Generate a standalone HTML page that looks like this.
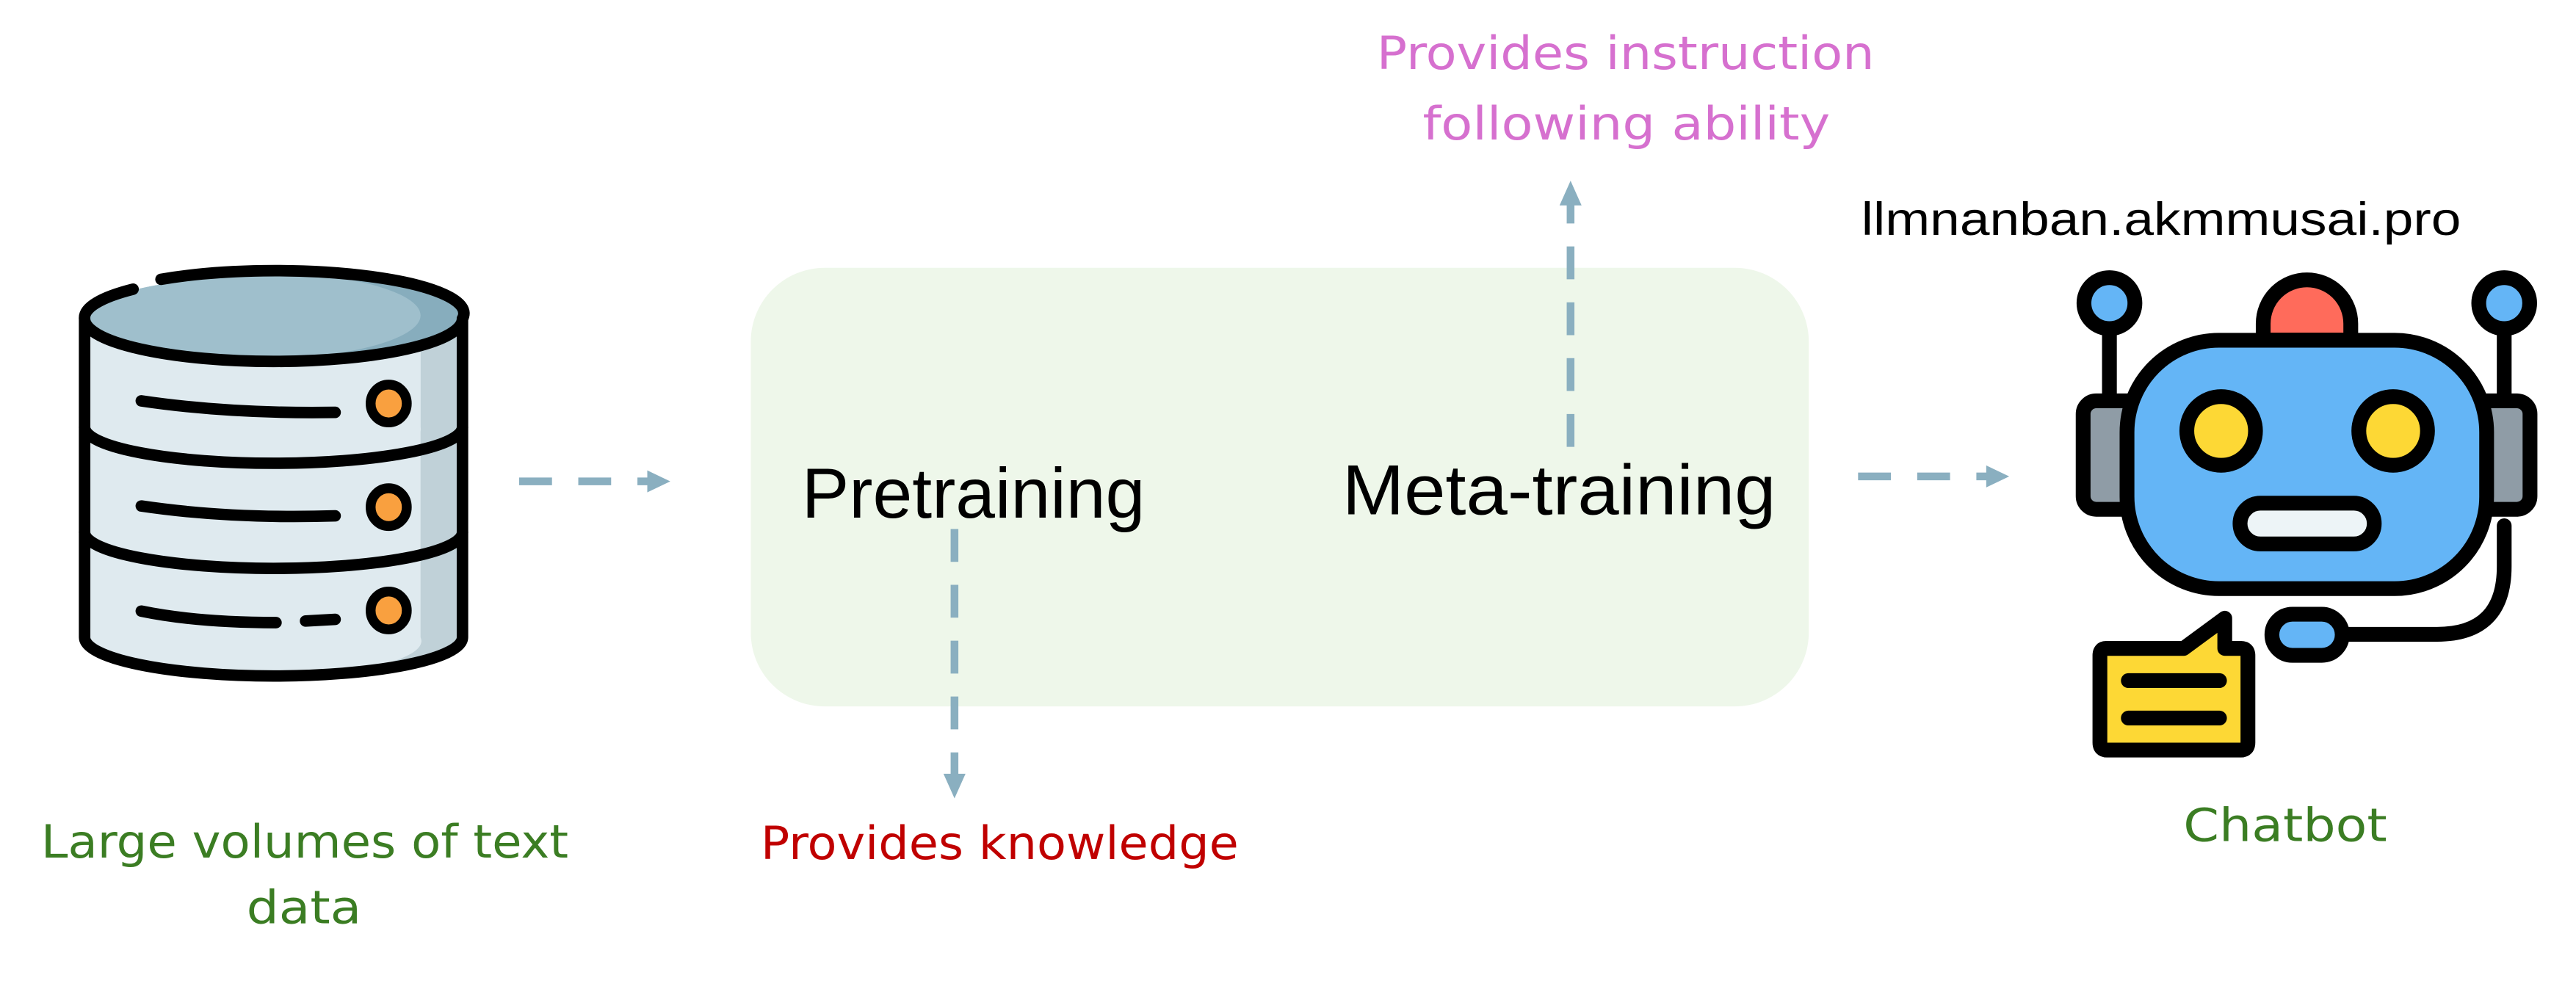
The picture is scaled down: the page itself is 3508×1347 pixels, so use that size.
<!DOCTYPE html>
<html><head><meta charset="utf-8"><style>html,body{margin:0;padding:0;background:#fff}svg{display:block}</style></head>
<body>
<svg width="3508" height="1347" viewBox="0 0 1568 602" xmlns="http://www.w3.org/2000/svg">
<defs>
<clipPath id="body"><path d="M51.5,194 V388 A115,23.5 0 0 0 281.5,388 V194 Z"/></clipPath>
<clipPath id="top"><ellipse cx="166.5" cy="194" rx="115" ry="26"/></clipPath>
</defs>
<rect width="1568" height="602" fill="#fff"/>
<!-- Database -->
<g stroke="#000" stroke-width="7" stroke-linecap="round" fill="none">
<g clip-path="url(#body)" stroke="none">
<rect x="40" y="190" width="260" height="240" fill="#c0d1d8"/>
<path d="M40,190 H256 V388 A100,22 0 0 1 200,410 H40Z" fill="#dfeaef"/>
<path d="M40,190 H256 V260 A100,22 0 0 1 200,281 H40Z" fill="#dfeaef"/>
</g>
<g clip-path="url(#top)" stroke="none">
<rect x="40" y="160" width="260" height="70" fill="#87adbd"/>
<ellipse cx="150" cy="192" rx="106" ry="27" fill="#9fbfcc"/>
</g>
<path d="M51.5,194 V388 A115,23.5 0 0 0 281.5,388 V194"/>
<path d="M81,176 A115,26 0 0 0 51.5,194 A115,26 0 0 0 281.5,194 A115,26 0 0 0 98,170"/>
<path d="M51.5,260 A115,22 0 0 0 281.5,260"/>
<path d="M51.5,324 A115,22 0 0 0 281.5,324"/>
<path d="M86,244 Q140,252 204,251"/>
<path d="M86,308 Q140,316 204,314"/>
<path d="M86,372 Q120,379 168,379"/>
<path d="M186,378 L204,377"/>
<ellipse cx="236.6" cy="245.6" rx="11" ry="11.5" fill="#f9a03f" stroke-width="6"/>
<ellipse cx="236.6" cy="308.7" rx="11" ry="11.5" fill="#f9a03f" stroke-width="6"/>
<ellipse cx="236.6" cy="371.6" rx="11" ry="11.5" fill="#f9a03f" stroke-width="6"/>
</g>
<!-- arrows -->
<g stroke="#8aafc0" stroke-width="4.7" fill="#8aafc0">
<path d="M316,293 H395" stroke-dasharray="20,16"/>
<path d="M394,286.3 L408,293 L394,299.7Z" stroke="none"/>
<path d="M1131,290 H1210" stroke-dasharray="20,16"/>
<path d="M1209,283.3 L1223,290 L1209,296.7Z" stroke="none"/>
</g>
<!-- green box -->
<rect x="457" y="163" width="644" height="267" rx="45" fill="#eef7ea"/>
<g stroke="#8aafc0" stroke-width="4.7" fill="#8aafc0">
<path d="M581,322 V472" stroke-dasharray="20,14"/>
<path d="M574.3,471 L581,486 L587.7,471Z" stroke="none"/>
<path d="M956,272 V124" stroke-dasharray="20,14"/>
<path d="M949.3,125 L956,110 L962.7,125Z" stroke="none"/>
</g>
<g font-family="Liberation Sans, sans-serif" fill="#000">
<text x="488" y="315" font-size="43" textLength="209" lengthAdjust="spacingAndGlyphs">Pretraining</text>
<text x="817" y="313" font-size="43" textLength="264" lengthAdjust="spacingAndGlyphs">Meta-training</text>
<text x="1133" y="143" font-size="28" textLength="365" lengthAdjust="spacingAndGlyphs">llmnanban.akmmusai.pro</text>
</g>
<g font-family="DejaVu Sans, sans-serif" font-size="28">
<text x="838" y="42" fill="#d670cf" textLength="303" lengthAdjust="spacingAndGlyphs">Provides instruction</text>
<text x="866" y="85" fill="#d670cf" textLength="248" lengthAdjust="spacingAndGlyphs">following ability</text>
<text x="463" y="523" fill="#c00000" textLength="291" lengthAdjust="spacingAndGlyphs">Provides knowledge</text>
<text x="25" y="522" fill="#3b7d23" textLength="321" lengthAdjust="spacingAndGlyphs">Large volumes of text</text>
<text x="150" y="562" fill="#3b7d23" textLength="70" lengthAdjust="spacingAndGlyphs">data</text>
<text x="1329" y="512" fill="#3b7d23" textLength="124" lengthAdjust="spacingAndGlyphs">Chatbot</text>
</g>
<!-- Robot -->
<g stroke="#000" stroke-width="9" stroke-linecap="round" stroke-linejoin="round">
<path d="M1284,190 V250 M1524.3,190 V250" fill="none"/>
<path d="M1425.7,386.1 H1483.4 Q1524.3,386.1 1524.3,344.8 V320" fill="none"/>
<circle cx="1284" cy="184.5" r="15.5" fill="#64b5f6"/>
<circle cx="1524.3" cy="184.5" r="15.5" fill="#64b5f6"/>
<path d="M1377.6,207 V197 A26.6,26.6 0 0 1 1430.9,197 V207Z" fill="#ff6b5b"/>
<rect x="1268" y="244" width="36" height="66" rx="8" fill="#8f9ca6"/>
<rect x="1504" y="244" width="36" height="66" rx="8" fill="#8f9ca6"/>
<rect x="1294.7" y="207.1" width="218.9" height="151.2" rx="56" fill="#64b5f6"/>
<circle cx="1352" cy="262.3" r="20.9" fill="#fdd835"/>
<circle cx="1456.7" cy="262.3" r="20.9" fill="#fdd835"/>
<rect x="1363.5" y="306.3" width="81.7" height="24.8" rx="12.4" fill="#edf4f7"/>
<rect x="1382.9" y="373.9" width="42.8" height="25" rx="12.5" fill="#64b5f6"/>
<path d="M1282,394.7 H1329.2 L1354.2,376.3 V394.7 H1364 Q1368.3,394.7 1368.3,399 V452 Q1368.3,456.6 1364,456.6 H1282.5 Q1278.2,456.6 1278.2,452 V399 Q1278.2,394.7 1282,394.7Z" fill="#fdd835"/>
<path d="M1295.5,414.3 H1351 M1295.5,437.1 H1351" fill="none"/>
</g>
</svg>
</body></html>
